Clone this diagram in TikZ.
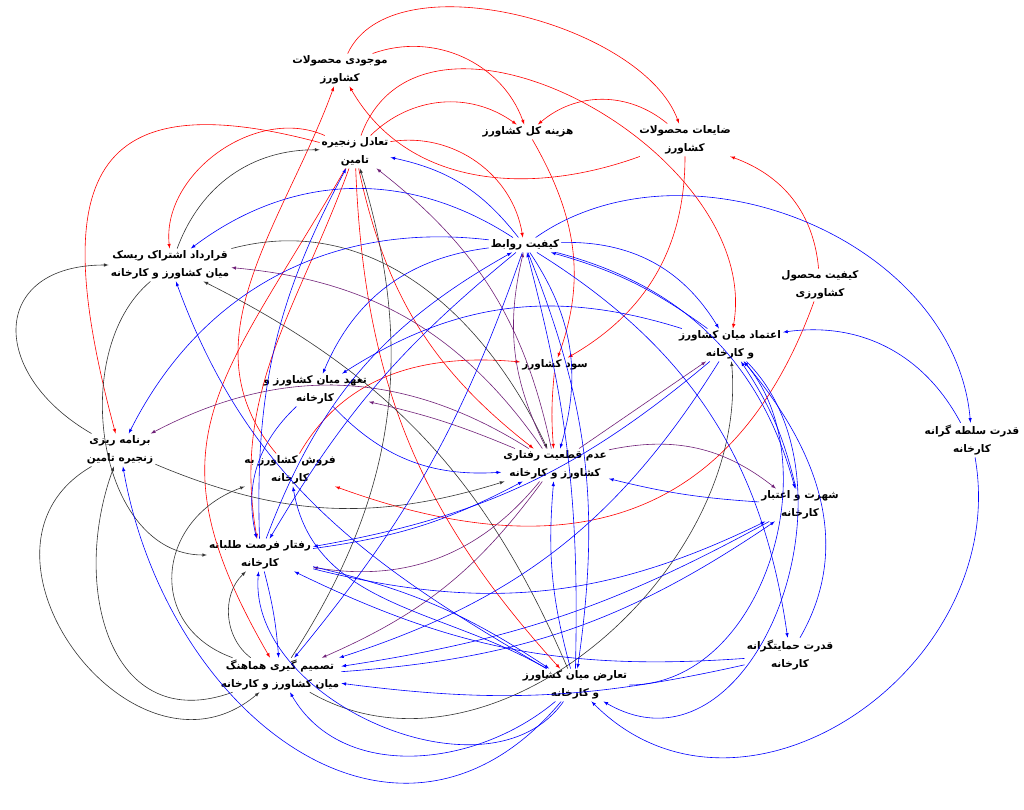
\documentclass[tikz,border=0pt]{standalone}
\usepackage{fontspec}
\newfontfamily\fafont[Script=Arabic]{DejaVu Sans}
\TeXXeTstate=1
\newcommand{\fa}[1]{\beginR #1\endR}
\definecolor{purp}{RGB}{112,32,120}
\begin{document}
\begin{tikzpicture}[x=1pt,y=1pt,>=latex]
	\useasboundingbox (0,0) rectangle (1024,809);
	\tikzstyle{var}=[font=\fafont\bfseries\fontsize{10.5}{18}\selectfont, align=center, inner sep=2pt]
	\node[var] (moj)   at (340,739) {\fa{موجودی محصولات}\\\fa{کشاورز}};
	\node[var] (haz)   at (528,677) {\fa{هزینه کل کشاورز}};
	\node[var] (zay)   at (685,669) {\fa{ضایعات محصولات}\\\fa{کشاورز}};
	\node[var] (tad)   at (355,657) {\fa{تعادل زنجیره}\\\fa{تامین}};
	\node[var] (rav)   at (525,564) {\fa{کیفیت روابط}};
	\node[var] (ghar)  at (170,544) {\fa{قرارداد اشتراک ریسک}\\\fa{میان کشاورز و کارخانه}};
	\node[var] (kmah)  at (820,524) {\fa{کیفیت محصول}\\\fa{کشاورزی}};
	\node[var] (etm)   at (730,464) {\fa{اعتماد میان کشاورز}\\\fa{و کارخانه}};
	\node[var] (sood)  at (555,444) {\fa{سود کشاورز}};
	\node[var] (taa)   at (315,419) {\fa{تعهد میان کشاورز و}\\\fa{کارخانه}};
	\node[var] (solt)  at (972,369) {\fa{قدرت سلطه گرانه}\\\fa{کارخانه}};
	\node[var] (barn)  at (120,359) {\fa{برنامه ریزی}\\\fa{زنجیره تامین}};
	\node[var] (forsh) at (290,339) {\fa{فروش کشاورز به}\\\fa{کارخانه}};
	\node[var] (adam)  at (555,344) {\fa{عدم قطعیت رفتاری}\\\fa{کشاورز و کارخانه}};
	\node[var] (shoh)  at (800,304) {\fa{شهرت و اعتبار}\\\fa{کارخانه}};
	\node[var] (raft)  at (260,254) {\fa{رفتار فرصت طلبانه}\\\fa{کارخانه}};
	\node[var] (hem)   at (790,154) {\fa{قدرت حمایتگرانه}\\\fa{کارخانه}};
	\node[var] (tasm)  at (280,134) {\fa{تصمیم گیری هماهنگ}\\\fa{میان کشاورز و کارخانه}};
	\node[var] (taar)  at (575,124) {\fa{تعارض میان کشاورز}\\\fa{و کارخانه}};

	% red links
	\begin{scope}[->, red, line width=0.6pt]
		\draw (moj) to[bend left=45] (haz);
		\draw (moj) to[out=65,in=110,looseness=0.8] (zay);
		\draw (zay) to[bend right=40] (haz);
		\draw (tad) to[bend left=40] (haz);
		\draw (tad) to[out=70,in=80,looseness=1.1] (etm);
		\draw (kmah) to[out=95,in=-20] (zay);
		\draw (zay) to[out=200,in=-60] (moj);
		\draw (haz) to[out=-60,in=70] (sood);
		\draw (zay) to[out=-90,in=30] (sood);
		\draw (tad) to[bend left=45] (rav);
		\draw (kmah) to[out=-110,in=-20,looseness=1.2] (forsh);
		\draw (forsh) to[out=60,in=175] (sood);
		\draw (sood) to[bend right=5] (adam);
		\draw (tad) to[bend right=20] (adam);
		\draw (tad) to[bend right=20] (taar);
		\draw (tad) to[bend right=60] (ghar);
		\draw (tad) to[out=165,in=105,looseness=1.8] (barn);
		\draw (tad) to[out=-120,in=120,looseness=1.3] (tasm);
		\draw (tad) to[out=-110,in=100] (raft);
		\draw (forsh) to[out=130,in=-110] (moj);
	\end{scope}

	% black links
	\begin{scope}[->, black!80, line width=0.6pt]
		\draw (ghar) to[bend left=35] (tad);
		\draw (barn) to[out=150,in=180,looseness=1.8] (ghar);
		\draw (ghar) to[out=-140,in=180] (raft);
		\draw (ghar) to[out=15,in=115] (adam);
		\draw (taar) to[bend right=20] (ghar);
		\draw (barn) to[bend right=20] (adam);
		\draw (tasm) to[bend left=50] (raft);
		\draw (barn) to[out=-150,in=-140,looseness=1.5] (tasm);
		\draw (tasm) to[out=200,in=-110,looseness=1.3] (barn);
		\draw (tasm) to[out=160,in=200,looseness=1.4] (forsh);
		\draw (tasm) to[bend right=25] (tad);
		\draw (tasm) to[out=-30,in=-85] (etm);
	\end{scope}

	% purple links
	\begin{scope}[->, purp, line width=0.6pt]
		\draw (adam) to[bend right=20] (tad);
		\draw (adam) to[bend right=25] (ghar);
		\draw (adam) to[bend right=30] (barn);
		\draw (adam) to[bend left=20] (rav);
		\draw (adam) to[bend right=5] (taa);
		\draw (adam) to[bend left=25] (shoh);
		\draw (adam) to (etm);
		\draw (adam) to[bend left=30] (raft);
		\draw (adam) to[bend left=15] (tasm);
	\end{scope}

	% blue links
	\begin{scope}[->, blue, line width=0.6pt]
		\draw (rav) to[bend right=20] (tad);
		\draw (rav) to[bend right=35] (ghar);
		\draw (rav) to[bend right=35] (barn);
		\draw (rav) to[bend right=30] (taa);
		\draw (etm) to[bend right=25] (taa);
		\draw (etm) to[bend right=10] (rav);
		\draw (rav) to[bend left=30] (etm);
		\draw (solt) to[bend right=35] (etm);
		\draw (rav) to[out=35,in=95] (solt);
		\draw (solt) to[out=-80,in=-45,looseness=1.2] (taar);
		\draw (rav) to[bend left=30] (shoh);
		\draw (rav) to[bend left=25] (hem);
		\draw (rav) to[bend left=25] (adam);
		\draw (rav) to[bend left=10] (tasm);
		\draw (taar) to[bend right=8] (rav);
		\draw (rav) to[bend right=10] (raft);
		\draw (raft) to[bend left=20] (rav);
		\draw (taa) to[bend right=30] (raft);
		\draw (taar) to[out=150,in=-70] (ghar);
		\draw (taa) to[bend right=25] (adam);
		\draw (shoh) to[bend left=5] (adam);
		\draw (raft) to[bend right=10] (adam);
		\draw (taar) to[bend left=10] (adam);
		\draw (raft) to[bend right=20] (shoh);
		\draw (tasm) to[bend right=15] (shoh);
		\draw (raft) to[bend left=5] (tasm);
		\draw (raft) to[bend left=10] (taar);
		\draw (hem) to[bend left=15] (raft);
		\draw (shoh) to[bend left=10] (tasm);
		\draw (etm) to[out=-45,in=-30,looseness=1.2] (taar);
		\draw (etm) to[bend left=15] (raft);
		\draw (etm) to[bend left=20] (tasm);
		\draw (rav) to[bend left=15] (taar);
		\draw (shoh) to[bend right=10] (etm);
		\draw (hem) to[out=60,in=-50] (etm);
		\draw (raft) to[bend left=15] (tad);
		\draw (taar) to[out=150,in=-80] (forsh);
		\draw (taar) to[out=-130,in=-80,looseness=1.3] (barn);
		\draw (taar) to[out=-125,in=-95] (raft);
		\draw (taar) to[out=-140,in=-60] (tasm);
		\draw (hem) to[bend left=10] (tasm);
		\draw (taar) to[out=0,in=-50] (etm);
	\end{scope}
\end{tikzpicture}
\end{document}
